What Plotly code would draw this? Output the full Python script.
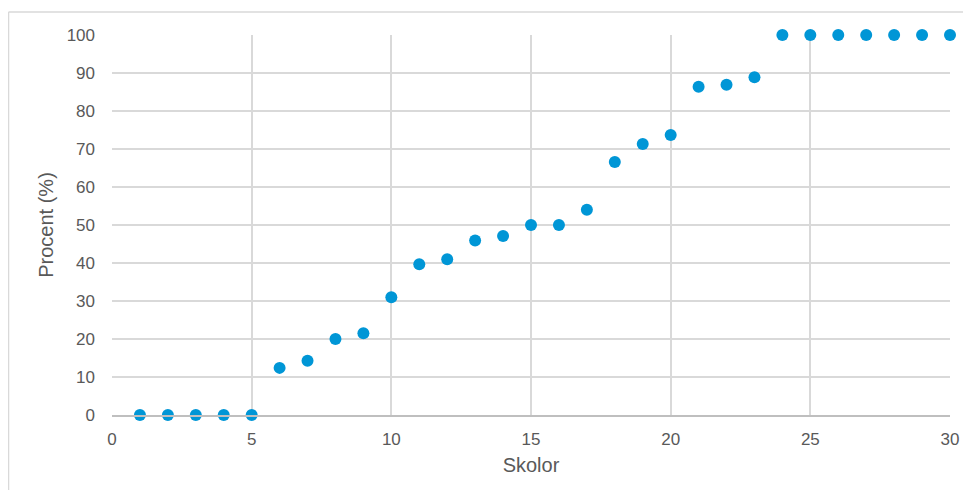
import plotly.graph_objects as go

skolor = list(range(1, 31))
procent = [0, 0, 0, 0, 0, 12.4, 14.3, 20, 21.5, 31, 39.7, 41, 45.9, 47.1, 50, 50,
           54, 66.6, 71.3, 73.7, 86.4, 86.9, 88.9, 100, 100, 100, 100, 100, 100, 100]

x_ticks = [0, 5, 10, 15, 20, 25, 30]
y_ticks = list(range(0, 101, 10))

fig = go.Figure()
fig.add_trace(go.Scatter(
    x=skolor, y=procent, mode="markers",
    marker=dict(color="#0096D6", size=12, line=dict(width=0)),
    cliponaxis=False, showlegend=False,
))

tick_font = dict(family="Liberation Sans, Arial, sans-serif", size=17, color="#595959")
title_font = dict(family="Liberation Sans, Arial, sans-serif", size=20, color="#595959")

border = dict(color="#d9d9d9", width=1.5)

fig.update_layout(
    width=955, height=482,
    margin=dict(l=104, r=13, t=27, b=75, autoexpand=False),
    paper_bgcolor="white", plot_bgcolor="white",
    font=tick_font,
    xaxis=dict(
        range=[0, 30], tickvals=x_ticks, showgrid=True, gridcolor="#d9d9d9", gridwidth=1.5,
        zeroline=False, showline=True, linecolor="#bfbfbf", linewidth=1.5, automargin=False,
        ticks="", ticklabelstandoff=8, tickfont=tick_font,
        title=dict(text="Skolor", font=title_font, standoff=10),
    ),
    yaxis=dict(
        range=[0, 100], tickvals=y_ticks, showgrid=True, gridcolor="#d9d9d9", gridwidth=1.5,
        zeroline=False, showline=False, ticks="", ticklabelstandoff=16, tickfont=tick_font,
        automargin=False,
        title=dict(text="Procent (%)", font=title_font, standoff=7),
    ),
    shapes=[
        dict(type="line", xref="paper", yref="paper", x0=-0.1235, x1=1.05, y0=1.0605, y1=1.0605,
             line=border, layer="below"),
        dict(type="line", xref="paper", yref="paper", x0=-0.1235, x1=-0.1235, y0=-0.3, y1=1.0605,
             line=border, layer="below"),
    ],
)

fig.write_html("out.html")
